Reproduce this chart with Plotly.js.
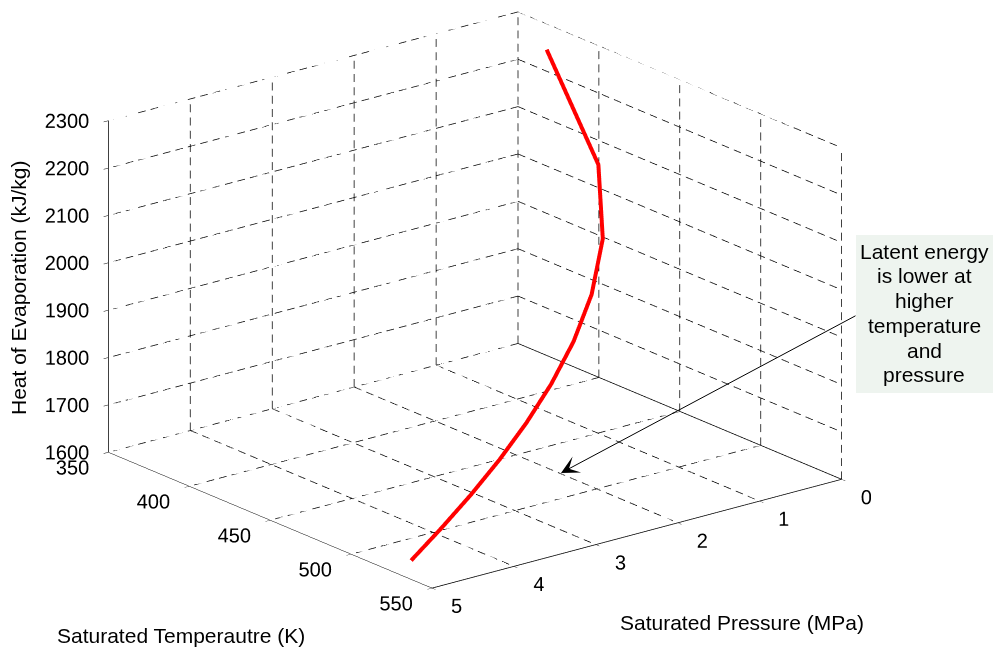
<!DOCTYPE html>
<html>
<head>
<meta charset="utf-8">
<script src="https://cdn.plot.ly/plotly-3.0.1.min.js"></script>
<style>
html,body{margin:0;padding:0;background:#fff;}
#chart{width:993px;height:650px;}
</style>
</head>
<body>
<div id="chart"></div>
<script>
// Saturated water (pressure table)
var satPressure = [0.1, 0.5, 1.0, 1.5, 2.0, 2.5, 3.0, 3.5, 4.0, 4.5, 5.0];           // MPa
var satTemperature = [372.76, 424.98, 453.03, 471.44, 485.53, 497.10, 507.00, 515.71, 523.50, 530.59, 537.09]; // K
var heatEvap = [2257.5, 2108.0, 2014.6, 1946.4, 1889.8, 1840.1, 1794.9, 1752.8, 1713.5, 1676.2, 1639.7];      // kJ/kg

var tempTicks = [350, 400, 450, 500, 550];
var presTicks = [0, 1, 2, 3, 4, 5];
var heatTicks = [1600, 1700, 1800, 1900, 2000, 2100, 2200, 2300];

var FONT = 'Liberation Sans, Arial, Helvetica, sans-serif';
var tMin = tempTicks[0], tMax = tempTicks[tempTicks.length-1];
var pMin = presTicks[0], pMax = presTicks[presTicks.length-1];
var hMin = heatTicks[0], hMax = heatTicks[heatTicks.length-1];

// dash style: number of dash periods along a full axis, and the "on" fraction
var DASH_PERIODS = {p:33, t:27, h:25};
var DASH_ON = 0.6;

// dashed grid lines on the three back planes
var gx = [], gy = [], gz = [];
function dashSeg(p1, p2, n){
  for (var k = 0; k < n; k++){
    var a = k / n, b = (k + DASH_ON) / n;
    gx.push(p1[0] + (p2[0]-p1[0])*a, p1[0] + (p2[0]-p1[0])*b, null);
    gy.push(p1[1] + (p2[1]-p1[1])*a, p1[1] + (p2[1]-p1[1])*b, null);
    gz.push(p1[2] + (p2[2]-p1[2])*a, p1[2] + (p2[2]-p1[2])*b, null);
  }
}
tempTicks.forEach(function(t){ if (t !== tMax) dashSeg([pMin, t, hMin], [pMax, t, hMin], DASH_PERIODS.p); });
presTicks.forEach(function(p){ if (p !== pMin && p !== pMax) dashSeg([p, tMin, hMin], [p, tMax, hMin], DASH_PERIODS.t); });
presTicks.forEach(function(p){ if (p !== pMax) dashSeg([p, tMin, hMin], [p, tMin, hMax], DASH_PERIODS.h); });
heatTicks.forEach(function(h){ if (h !== hMin) dashSeg([pMin, tMin, h], [pMax, tMin, h], DASH_PERIODS.p); });
tempTicks.forEach(function(t){ if (t !== tMin) dashSeg([pMin, t, hMin], [pMin, t, hMax], DASH_PERIODS.h); });
heatTicks.forEach(function(h){ if (h !== hMin) dashSeg([pMin, tMin, h], [pMin, tMax, h], DASH_PERIODS.t); });

var solidSegs = [
  [[pMax, tMin, hMin], [pMax, tMax, hMin]],
  [[pMin, tMax, hMin], [pMax, tMax, hMin]],
  [[pMax, tMin, hMin], [pMax, tMin, hMax]],
  [[pMin, tMin, hMin], [pMin, tMax, hMin]]
];

var traces = [];
traces.push({type:'scatter3d', mode:'lines', x:gx, y:gy, z:gz, connectgaps:false,
  line:{color:'#000', width:1.5}, hoverinfo:'skip', showlegend:false});
solidSegs.forEach(function(s){
  traces.push({type:'scatter3d', mode:'lines', x:[s[0][0], s[1][0]], y:[s[0][1], s[1][1]], z:[s[0][2], s[1][2]],
    line:{color:'#000', width:1.5}, hoverinfo:'skip', showlegend:false});
});
traces.push({type:'scatter3d', mode:'lines', x:satPressure, y:satTemperature, z:heatEvap,
   line:{color:'#ff0000', width:8}, hoverinfo:'skip', showlegend:false});

// tick labels as screen-facing 3D text placed at the tick positions
var tickFont = {family:FONT, size:20, color:'#000'};
var eps = 1e-4;
var liftT = 0.036 * (hMax - hMin), liftP = 0.028 * (hMax - hMin);
traces.push({type:'scatter3d', mode:'text', x:tempTicks.map(function(){return pMax - eps*(pMax-pMin);}), y:tempTicks,
  z:tempTicks.map(function(){return hMin + liftT;}), text:tempTicks.map(String), textposition:'bottom left',
  textfont:tickFont, hoverinfo:'skip', showlegend:false});
traces.push({type:'scatter3d', mode:'text', x:presTicks, y:presTicks.map(function(){return tMax - eps*(tMax-tMin);}),
  z:presTicks.map(function(){return hMin + liftP;}), text:presTicks.map(String), textposition:'bottom right',
  textfont:tickFont, hoverinfo:'skip', showlegend:false});
traces.push({type:'scatter3d', mode:'text', x:heatTicks.map(function(){return pMax;}),
  y:heatTicks.map(function(){return tMin;}), z:heatTicks, text:heatTicks.map(String), textposition:'middle left',
  textfont:tickFont, hoverinfo:'skip', showlegend:false});

function ax(range, ticks){
  return {range:range, tickvals:ticks, autorange:false, showticklabels:false,
    showgrid:false, zeroline:false, showline:true, linecolor:'#000', linewidth:1,
    showbackground:false, showspikes:false,
    ticks:'outside', ticklen:6, tickcolor:'#000', tickwidth:1, title:{text:''}};
}

var ev = 3;
var zoomK = 1.6106;
var layout = {
  width:993, height:650, margin:{l:0, r:0, t:0, b:0},
  paper_bgcolor:'#fff', showlegend:false,
  scene:{
    domain:{x:[0, 0.957], y:[0, 1]},
    xaxis: ax([pMin, pMax], presTicks),
    yaxis: ax([tMin, tMax], tempTicks),
    zaxis: ax([hMin, hMax], heatTicks),
    aspectmode:'manual', aspectratio:{x:1*zoomK, y:0.993*zoomK, z:0.672*zoomK},
    camera:{projection:{type:'orthographic'}, up:{x:0,y:0,z:1}, center:{x:0,y:0,z:-0.0816},
      eye:{x:0.5868*ev, y:0.7377*ev, z:0.334*ev - 0.0816}},
    dragmode:false
  },
  shapes:[{type:'rect', xref:'paper', yref:'paper', x0:856/993, x1:1, y0:1-393/650, y1:1-235/650,
    fillcolor:'#eef4ef', line:{width:0}, layer:'above'}],
  annotations:[]
};

var noteLines = ['Latent energy', 'is lower at', 'higher', 'temperature', 'and', 'pressure'];
noteLines.forEach(function(s, i){
  layout.annotations.push({xref:'paper', yref:'paper', x:924/993, y:1-(251+24.8*i)/650,
    xanchor:'center', yanchor:'middle', text:s, showarrow:false, font:{family:FONT, size:21, color:'#000'}});
});
layout.annotations.push({xref:'paper', yref:'paper', x:561/993, y:1-473/650, text:'',
  showarrow:true, axref:'pixel', ayref:'pixel', ax:857-561, ay:315-473,
  arrowhead:3, arrowsize:3, arrowwidth:1, arrowcolor:'#000', standoff:0});
layout.annotations.push({xref:'paper', yref:'paper', x:18/993, y:1-288/650, textangle:-90,
  xanchor:'center', yanchor:'middle', text:'Heat of Evaporation (kJ/kg)', showarrow:false,
  font:{family:FONT, size:21, color:'#000'}});
layout.annotations.push({xref:'paper', yref:'paper', x:181/993, y:1-635/650,
  xanchor:'center', yanchor:'middle', text:'Saturated Temperautre (K)', showarrow:false,
  font:{family:FONT, size:21, color:'#000'}});
layout.annotations.push({xref:'paper', yref:'paper', x:742/993, y:1-622/650,
  xanchor:'center', yanchor:'middle', text:'Saturated Pressure (MPa)', showarrow:false,
  font:{family:FONT, size:21, color:'#000'}});

Plotly.newPlot('chart', traces, layout, {displayModeBar:false});
</script>
</body>
</html>
